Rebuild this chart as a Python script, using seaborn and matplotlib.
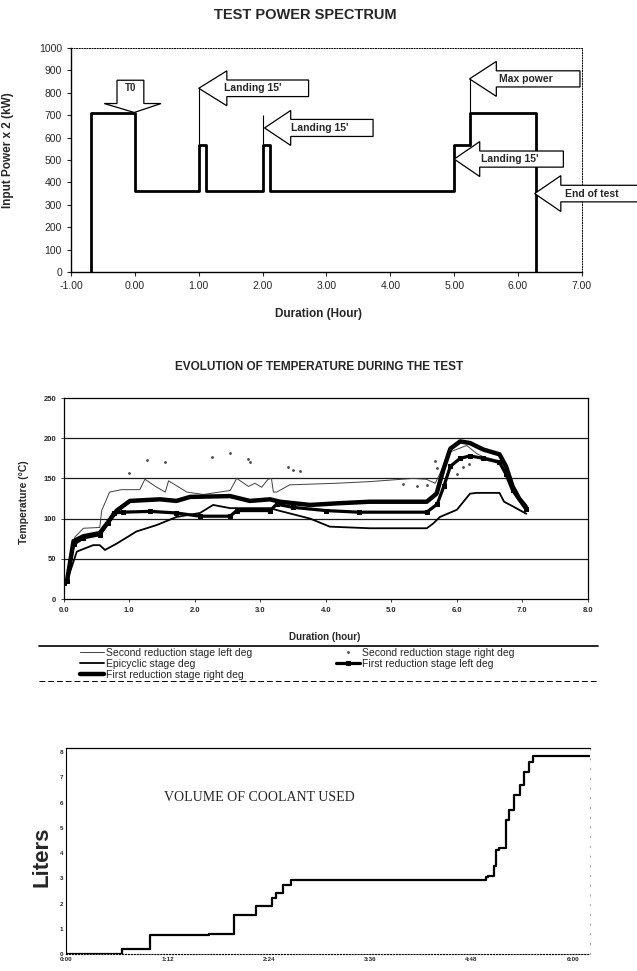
import matplotlib
matplotlib.use('Agg')
import matplotlib.pyplot as plt
import seaborn as sns
from matplotlib.patches import Polygon
from matplotlib.lines import Line2D

# ---- data ----
# test power spectrum (step profile)
power_hours = [-0.68, -0.68, 0.0, 1.0, 1.12, 2.0, 2.12, 5.0, 5.25, 6.28]
power_kw = [0, 710, 360, 565, 360, 565, 360, 565, 710, 0]
power_xticks = [-1, 0, 1, 2, 3, 4, 5, 6, 7]
power_yticks = [0, 100, 200, 300, 400, 500, 600, 700, 800, 900, 1000]

# temperature evolution
sec_left_h = [0.0, 0.05, 0.17, 0.3, 0.55, 0.58, 0.7, 0.88, 1.16, 1.24, 1.4, 1.55, 1.6, 1.88,
              2.13, 2.54, 2.64, 2.82, 2.92, 3.02, 3.12, 3.17, 3.2, 3.25, 3.45, 4.17, 4.67,
              5.33, 5.53, 5.67, 5.9, 6.15, 6.3, 6.4, 6.65, 6.8, 6.95, 7.05]
sec_left_t = [20, 22, 77, 88, 89, 110, 133, 136, 136, 149, 140, 133, 147, 133,
              130, 135, 150, 140, 144, 139, 149, 150, 133, 133, 142, 144, 146,
              150, 149, 144, 183, 191, 181, 177, 172, 150, 125, 112]

sec_right_h = [0.99, 1.27, 1.55, 2.26, 2.54, 2.82, 2.85, 3.43, 3.5, 3.6, 5.18, 5.39, 5.55,
               5.67, 5.69, 5.82, 6.0, 6.1, 6.18]
sec_right_t = [157, 173, 170, 177, 181, 174, 171, 164, 161, 159, 143, 141, 142,
               172, 163, 144, 156, 164, 168]

epicyclic_h = [0.0, 0.05, 0.09, 0.2, 0.45, 0.55, 0.63, 0.81, 1.11, 1.42, 1.72, 2.08, 2.28,
               2.54, 3.15, 3.28, 3.76, 4.06, 4.67, 5.54, 5.64, 5.74, 6.0, 6.2, 6.3, 6.65,
               6.72, 6.86, 7.06]
epicyclic_t = [20, 22, 32, 59, 67, 67, 61, 69, 84, 92, 102, 107, 117,
               113, 113, 110, 100, 90, 88, 88, 94, 102, 111, 131, 132, 132,
               121, 115, 106]

first_right_h = [0.0, 0.05, 0.15, 0.3, 0.55, 0.68, 0.81, 1.01, 1.47, 1.72, 1.93, 2.54, 2.84,
                 3.15, 3.3, 3.76, 4.17, 4.67, 5.54, 5.69, 5.79, 5.9, 6.05, 6.2, 6.4, 6.65,
                 6.75, 6.85, 6.95, 7.05]
first_right_t = [20, 22, 72, 78, 82, 96, 110, 122, 124, 122, 127, 128, 122,
                 124, 121, 117, 119, 121, 121, 131, 160, 187, 196, 194, 186, 180,
                 165, 140, 125, 115]

first_left_h = [0.0, 0.05, 0.15, 0.3, 0.55, 0.68, 0.76, 0.9, 1.32, 1.72, 2.08, 2.54, 2.64,
                3.15, 3.25, 3.5, 4.0, 4.5, 5.54, 5.7, 5.8, 5.9, 6.05, 6.2, 6.4, 6.65, 6.75,
                6.85, 7.05]
first_left_t = [20, 22, 68, 76, 80, 95, 107, 108, 109, 107, 103, 103, 110,
                110, 118, 114, 110, 108, 108, 118, 140, 165, 175, 178, 175, 170, 155,
                135, 112]

temp_xticks = [0, 1, 2, 3, 4, 5, 6, 7, 8]
temp_yticks = [0, 50, 100, 150, 200, 250]

# coolant volume (cumulative, steps)
coolant_h = [0.0, 0.662, 0.999, 1.696, 1.985, 2.25, 2.442, 2.49, 2.572, 2.659, 4.968, 4.992,
             5.064, 5.088, 5.127, 5.208, 5.241, 5.304, 5.367, 5.415, 5.473, 5.53, 5.593, 6.2]
coolant_l = [0.0, 0.2, 0.75, 0.8, 1.55, 1.9, 2.2, 2.4, 2.75, 2.95, 3.05, 3.1,
             3.5, 4.1, 4.2, 5.3, 5.7, 6.3, 6.7, 7.2, 7.6, 7.85, 7.85, 7.85]
coolant_xticks = [0, 1.2, 2.4, 3.6, 4.8, 6.0]
coolant_xlabels = ["0:00", "1:12", "2:24", "3:36", "4:48", "6:00"]

sns.set_theme(style="white")
plt.rcParams['font.family'] = ['Liberation Sans', 'DejaVu Sans']


def left_arrow(ax, tip_x, tip_y, head_len, head_half, body_len, body_half, label, text_x):
    """White block arrow pointing left, label written inside."""
    x1 = tip_x + head_len
    x2 = x1 + body_len
    pts = [(tip_x, tip_y), (x1, tip_y + head_half), (x1, tip_y + body_half),
           (x2, tip_y + body_half), (x2, tip_y - body_half), (x1, tip_y - body_half),
           (x1, tip_y - head_half)]
    ax.add_patch(Polygon(pts, closed=True, fc="white", ec="black", lw=0.9,
                         clip_on=False, zorder=5))
    ax.text(text_x, tip_y, label, ha="center", va="center", fontsize=7.5,
            fontweight="bold", zorder=6, clip_on=False)


fig = plt.figure(figsize=(6.37, 9.71), dpi=100)

# ---------------- TEST POWER SPECTRUM ----------------
ax1 = fig.add_axes([0.1115, 0.7199, 0.802, 0.2307])
sns.lineplot(x=power_hours, y=power_kw, ax=ax1, estimator=None, sort=False,
             drawstyle="steps-post", color="black", lw=2.0)
ax1.vlines([1.0, 2.0, 5.25], [565, 565, 710], [822, 700, 866], color="black", lw=0.8)

# T0 arrow pointing down
t0 = [(-0.28, 856), (0.14, 856), (0.14, 752), (0.41, 752), (-0.01, 712),
      (-0.48, 752), (-0.28, 752)]
ax1.add_patch(Polygon(t0, closed=True, fc="white", ec="black", lw=0.9, zorder=5))
ax1.text(-0.07, 822, "T0", ha="center", va="center", fontsize=7, fontweight="bold", zorder=6)

left_arrow(ax1, 1.0, 820, 0.44, 78, 1.28, 37, "Landing 15'", 1.85)
left_arrow(ax1, 2.03, 643, 0.41, 78, 1.29, 38, "Landing 15'", 2.89)
left_arrow(ax1, 5.24, 862, 0.42, 78, 1.31, 36, "Max power", 6.12)
left_arrow(ax1, 5.0, 504, 0.4, 78, 1.31, 36, "Landing 15'", 5.87)
left_arrow(ax1, 6.26, 350, 0.41, 80, 1.3, 37, "End of test", 7.15)

ax1.set_xlim(-1, 7)
ax1.set_ylim(0, 1000)
ax1.set_xticks(power_xticks)
ax1.set_xticklabels([f"{v:.2f}" for v in power_xticks])
ax1.set_yticks(power_yticks)
ax1.tick_params(labelsize=7.5, length=3, width=0.8, direction="out", left=True, bottom=True)
ax1.set_xlabel("Duration (Hour)", fontsize=8.5, fontweight="bold")
ax1.set_ylabel("Input Power x 2 (kW)", fontsize=8.5, fontweight="bold")
ax1.xaxis.set_label_coords(0.485, -0.16)
ax1.yaxis.set_label_coords(-0.112, 0.545)
for side in ["left", "bottom"]:
    ax1.spines[side].set_color("black")
    ax1.spines[side].set_linewidth(1.0)
for side in ["top", "right"]:
    ax1.spines[side].set_color("black")
    ax1.spines[side].set_linewidth(0.7)
    ax1.spines[side].set_linestyle(":")
fig.text(0.479, 1 - 15 / 971, "TEST POWER SPECTRUM", ha="center", va="center",
         fontsize=10.5, fontweight="bold")

# ---------------- TEMPERATURE ----------------
ax2 = fig.add_axes([0.1, 0.3831, 0.823, 0.207])
for yv in temp_yticks[1:-1]:
    ax2.axhline(yv, color="0.1", lw=0.9, zorder=0)
sns.lineplot(x=sec_left_h, y=sec_left_t, ax=ax2, estimator=None, sort=False,
             color="0.25", lw=0.7, label="Second reduction stage left deg")
sns.lineplot(x=epicyclic_h, y=epicyclic_t, ax=ax2, estimator=None, sort=False,
             color="black", lw=1.3, label="Epicyclic stage deg")
sns.lineplot(x=first_right_h, y=first_right_t, ax=ax2, estimator=None, sort=False,
             color="black", lw=3.2, label="First reduction stage right deg")
sns.lineplot(x=sec_right_h, y=sec_right_t, ax=ax2, estimator=None, sort=False,
             color="0.3", lw=0, marker=".", markersize=2.5, markeredgecolor="0.3",
             label="Second reduction stage right deg")
sns.lineplot(x=first_left_h, y=first_left_t, ax=ax2, estimator=None, sort=False,
             color="black", lw=2.3, marker="s", markersize=2.5,
             markeredgecolor="black", markerfacecolor="black",
             label="First reduction stage left deg")
handles, labels = ax2.get_legend_handles_labels()
ax2.get_legend().remove()

ax2.set_xlim(0, 8)
ax2.set_ylim(0, 250)
ax2.set_xticks(temp_xticks)
ax2.set_xticklabels([f"{v:.1f}" for v in temp_xticks])
ax2.set_yticks(temp_yticks)
ax2.tick_params(labelsize=5.5, length=2, width=0.6, left=True, bottom=True)
for lab in ax2.get_xticklabels() + ax2.get_yticklabels():
    lab.set_fontweight("bold")
ax2.set_xlabel("Duration (hour)", fontsize=7, fontweight="bold")
ax2.set_ylabel("Temperature (°C)", fontsize=7.5, fontweight="bold")
ax2.xaxis.set_label_coords(0.498, -0.164)
ax2.yaxis.set_label_coords(-0.067, 0.48)
for side in ax2.spines:
    ax2.spines[side].set_color("black")
    ax2.spines[side].set_linewidth(0.9)
fig.text(319 / 637, 1 - 367 / 971, "EVOLUTION OF TEMPERATURE DURING THE TEST",
         ha="center", va="center", fontsize=8.5, fontweight="bold")

fig.legend(handles, labels, ncol=2, loc="upper left",
           bbox_to_anchor=(80 / 637, 1 - 648 / 971), frameon=False, fontsize=7.5,
           handlelength=2.3, handletextpad=0.2, labelspacing=0.08, columnspacing=8.0,
           borderaxespad=0, borderpad=0)
fig.add_artist(Line2D([39 / 637, 598 / 637], [1 - 646 / 971] * 2, color="black", lw=1.2))
fig.add_artist(Line2D([39 / 637, 598 / 637], [1 - 681 / 971] * 2, color="black", lw=0.7,
                      linestyle=(0, (6, 3))))

# ---------------- COOLANT ----------------
ax3 = fig.add_axes([0.1036, 0.0175, 0.8226, 0.2122])
sns.lineplot(x=coolant_h, y=coolant_l, ax=ax3, estimator=None, sort=False,
             drawstyle="steps-post", color="black", lw=1.6)
ax3.set_xlim(0, 6.2)
ax3.set_ylim(0, 8.16)
ax3.set_xticks(coolant_xticks)
ax3.set_xticklabels(coolant_xlabels)
ax3.set_yticks(range(9))
ax3.tick_params(labelsize=4.5, length=0, pad=2)
for lab in ax3.get_xticklabels() + ax3.get_yticklabels():
    lab.set_fontweight("bold")
ax3.set_xlabel("")
ax3.set_ylabel("")
ax3.spines["left"].set_color("black")
ax3.spines["left"].set_linewidth(0.8)
ax3.spines["top"].set_color("black")
ax3.spines["top"].set_linewidth(0.9)
ax3.spines["bottom"].set_color("black")
ax3.spines["bottom"].set_linewidth(0.8)
ax3.spines["bottom"].set_linestyle(":")
ax3.spines["right"].set_color("0.5")
ax3.spines["right"].set_linewidth(0.5)
ax3.spines["right"].set_linestyle((0, (2, 12)))
fig.text(42 / 637, 1 - 857 / 971, "Liters", rotation=90, ha="center", va="center",
         fontsize=16, fontweight="bold")
fig.text(259 / 637, 1 - 797 / 971, "VOLUME OF COOLANT USED", ha="center", va="center",
         fontsize=10, family=["Liberation Serif", "DejaVu Serif"])

fig.savefig("out.png", dpi=100, facecolor="white")
plt.close(fig)
